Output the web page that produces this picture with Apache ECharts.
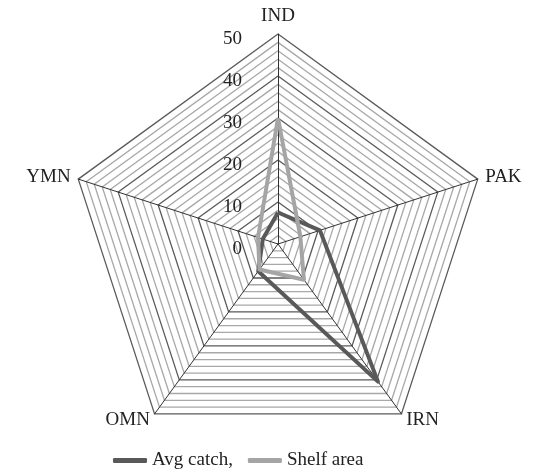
<!DOCTYPE html>
<html>
<head>
<meta charset="utf-8">
<script src="https://cdn.jsdelivr.net/npm/echarts@6/dist/echarts.min.js"></script>
<style>
  html, body { margin: 0; padding: 0; background: #fff; }
  #main { width: 537px; height: 472px; }
</style>
</head>
<body>
<div id="main"></div>
<script>
// radar runs counter-clockwise, so the axes are listed IND, YMN, OMN, IRN, PAK
var indicators = ['IND', 'YMN', 'OMN', 'IRN', 'PAK'];
var avgCatch = [7.5, 3.8, 8, 40.5, 10.5];
var shelfArea = [30, 5, 7.5, 10.5, 5.6];
var seriesNames = ['Avg catch,', 'Shelf area'];
var axisMax = 50;

var font = 'Liberation Serif';

var indicatorList = [];
for (var i = 0; i < indicators.length; i++) {
    var ind = { name: indicators[i], max: axisMax, min: 0 };
    // only the first axis carries the value labels
    if (i == 0) {
        ind.axisLabel = { show: true };
    }
    indicatorList.push(ind);
}

var option;
option = {
    animation: false,
    backgroundColor: '#fff',
    legend: {
        top: 446,
        left: 108,
        itemWidth: 34,
        itemHeight: 5,
        itemGap: 15,
        icon: 'roundRect',
        textStyle: { fontFamily: font, fontSize: 19, color: '#222' },
        data: seriesNames
    },
    radar: {
        center: [278, 244],
        radius: 210,
        startAngle: 90,
        shape: 'polygon',
        splitNumber: 25,
        nameGap: 8,
        axisName: { fontFamily: font, fontSize: 19, color: '#222' },
        axisLine: { lineStyle: { color: '#333', width: 1 } },
        splitLine: {
            lineStyle: {
                color: ['#5a5a5a', '#a8a8a8', '#a8a8a8', '#a8a8a8', '#a8a8a8'],
                width: 1.3
            }
        },
        splitArea: { show: false },
        axisTick: { show: false },
        axisLabel: {
            show: false,
            fontFamily: font,
            fontSize: 19,
            color: '#222',
            margin: 36,
            verticalAlign: 'top',
            padding: [-4, 0, 0, 0],
            showMinLabel: true,
            showMaxLabel: true,
            formatter: function (v) {
                return v % 10 == 0 ? v : '';
            }
        },
        indicator: indicatorList
    },
    series: [
        {
            type: 'radar',
            symbol: 'none',
            data: [
                {
                    name: seriesNames[0],
                    value: avgCatch,
                    lineStyle: { color: '#595959', width: 4 },
                    itemStyle: { color: '#595959' }
                },
                {
                    name: seriesNames[1],
                    value: shelfArea,
                    lineStyle: { color: '#a5a5a5', width: 4 },
                    itemStyle: { color: '#a5a5a5' }
                }
            ]
        }
    ]
};

var chartDom = document.getElementById('main');
var myChart = echarts.init(chartDom);
option && myChart.setOption(option);
</script>
</body>
</html>
